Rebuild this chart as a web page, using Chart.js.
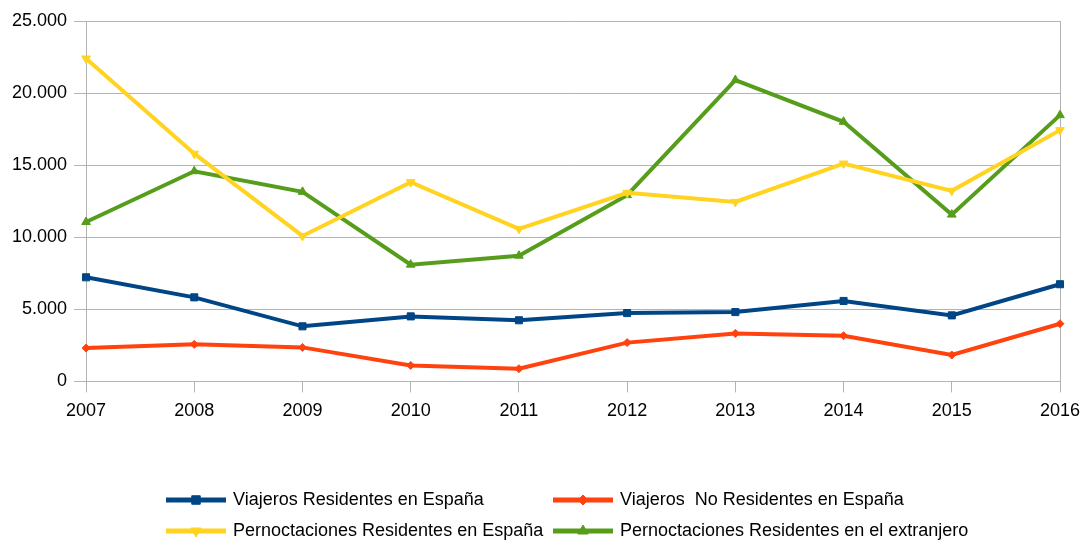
<!DOCTYPE html>
<html>
<head>
<meta charset="utf-8">
<script src="https://cdn.jsdelivr.net/npm/chart.js@4/dist/chart.umd.min.js"></script>
<style>
  html, body { margin: 0; padding: 0; background: #fff; }
  #wrap { width: 1082px; height: 541px; }
</style>
</head>
<body>
<div id="wrap"><canvas id="chart" width="1082" height="541"></canvas></div>
<script>
const years = ["2007", "2008", "2009", "2010", "2011", "2012", "2013", "2014", "2015", "2016"];

const viajerosResidentes = [7220, 5830, 3820, 4510, 4240, 4740, 4810, 5580, 4580, 6740];
const viajerosNoResidentes = [2310, 2570, 2360, 1110, 880, 2690, 3330, 3170, 1830, 4000];
const pernoctacionesResidentes = [22400, 15800, 10090, 13820, 10580, 13080, 12450, 15110, 13220, 17430];
const pernoctacionesExtranjero = [11060, 14580, 13150, 8100, 8720, 12920, 20900, 18010, 11570, 18470];

const seriesLabels = [
    "Viajeros Residentes en España",
    "Viajeros  No Residentes en España",
    "Pernoctaciones Residentes en España",
    "Pernoctaciones Residentes en el extranjero"
];

const FONT = "'Liberation Sans', Arial, sans-serif";
const GRID = "#b3b3b3";

function makeSet(label, data, color, style, radius, rotation) {
    return {
        label: label,
        data: data,
        borderColor: color,
        backgroundColor: color,
        borderWidth: 4,
        pointStyle: style,
        pointRadius: radius,
        pointHoverRadius: radius,
        pointRotation: rotation,
        pointBorderWidth: 1,
        tension: 0,
        fill: false
    };
}

// legend drawn as a 2x2 grid with line + marker, like the original
const gridLegend = {
    id: "gridLegend",
    afterDraw(chart) {
        const ctx = chart.ctx;
        const cols = [166, 553];
        const rows = [500, 531];
        chart.data.datasets.forEach((ds, i) => {
            const x = cols[i % 2];
            const y = rows[Math.floor(i / 2)];
            ctx.save();
            ctx.strokeStyle = ds.borderColor;
            ctx.fillStyle = ds.backgroundColor;
            ctx.lineWidth = 5;
            ctx.beginPath();
            ctx.moveTo(x, y);
            ctx.lineTo(x + 60, y);
            ctx.stroke();
            ctx.lineWidth = 1;
            Chart.helpers.drawPoint(ctx, {
                pointStyle: ds.pointStyle,
                radius: ds.pointRadius + 1,
                rotation: ds.pointRotation,
                borderWidth: 1
            }, x + 30, y);
            ctx.fillStyle = "#000";
            ctx.font = "18px " + FONT;
            ctx.textBaseline = "middle";
            ctx.fillText(ds.label, x + 67, y);
            ctx.restore();
        });
    }
};

new Chart(document.getElementById("chart").getContext("2d"), {
    type: "line",
    data: {
        labels: years,
        datasets: [
            makeSet(seriesLabels[0], viajerosResidentes, "#004586", "rect", 5, 0),
            makeSet(seriesLabels[1], viajerosNoResidentes, "#ff420e", "rectRot", 4, 0),
            makeSet(seriesLabels[2], pernoctacionesResidentes, "#ffd320", "triangle", 5, 180),
            makeSet(seriesLabels[3], pernoctacionesExtranjero, "#579d1c", "triangle", 5, 0)
        ]
    },
    options: {
        responsive: false,
        animation: false,
        layout: { padding: { left: 5, right: 22, top: 21, bottom: 111 } },
        plugins: {
            legend: { display: false },
            tooltip: { enabled: false }
        },
        scales: {
            x: {
                offset: false,
                afterFit: (scale) => { scale.paddingRight = 0; },
                grid: {
                    color: (c) => (c.index === 0 || c.index === years.length - 1) ? GRID : "rgba(0,0,0,0)",
                    tickColor: GRID,
                    tickLength: 11,
                    lineWidth: 1
                },
                border: { color: GRID },
                ticks: {
                    color: "#000",
                    font: { family: FONT, size: 18 },
                    padding: 8,
                    maxRotation: 0
                }
            },
            y: {
                min: 0,
                max: 25000,
                grid: {
                    color: GRID,
                    tickColor: GRID,
                    tickLength: 12,
                    lineWidth: 1
                },
                border: { color: GRID },
                ticks: {
                    stepSize: 5000,
                    color: "#000",
                    font: { family: FONT, size: 18 },
                    padding: 7,
                    callback: (v) => v.toString().replace(/\B(?=(\d{3})+(?!\d))/g, ".")
                }
            }
        }
    },
    plugins: [gridLegend]
});
</script>
</body>
</html>
